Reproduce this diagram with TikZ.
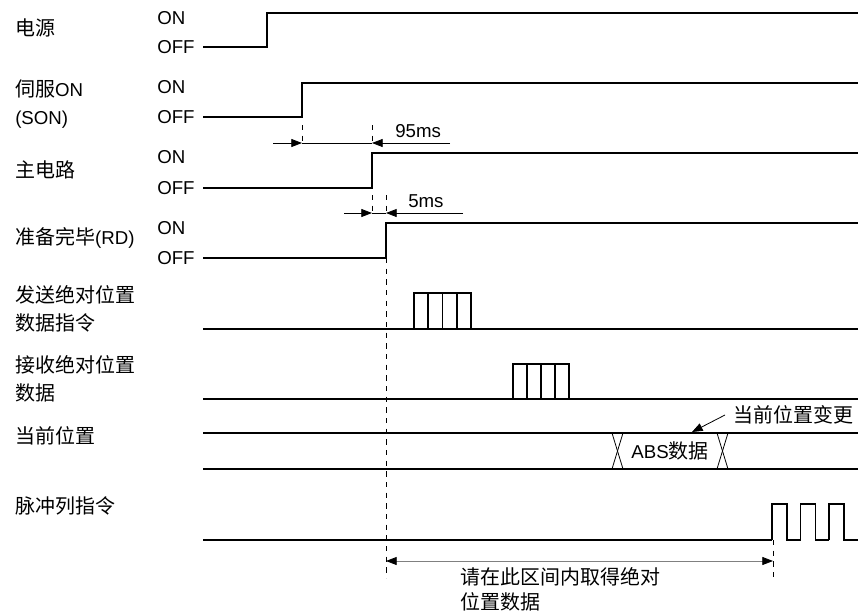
\documentclass[tikz,border=0pt]{standalone}
\usepackage{fontspec}
\setmainfont{Liberation Sans}
\newfontfamily\cjk[Scale=1.07]{Noto Sans CJK SC}
\usetikzlibrary{arrows.meta}

\newcommand*{\xstart}{203}
\newcommand*{\xstop}{858}
\newcommand*{\tlbl}{157}
\newcommand*{\slbl}{15}

\begin{document}
\begin{tikzpicture}
[
	x=0.75pt,y=-0.75pt,
	sig/.style={line width=1pt},
	box/.style={line width=1.3pt},
	base/.style={line width=1.7pt},
	dim/.style={line width=0.6pt},
	tick/.style={line width=0.6pt,dash pattern=on 4pt off 4pt},
	tip/.style={-{Triangle[length=8pt,width=6pt]}},
	lbl/.style={anchor=west,inner sep=0pt,align=left,font=\fontsize{14}{21}\selectfont}
]
	\useasboundingbox (0,0) rectangle (858,611);

	% signal names
	\node[lbl] (power) at (\slbl,28) {\cjk 电源};
	\node[lbl] (son) at (\slbl,104) {{\cjk 伺服}ON\\(SON)};
	\node[lbl] (mains) at (\slbl,170) {\cjk 主电路};
	\node[lbl] (rd) at (\slbl,238) {{\cjk 准备完毕}(RD)};
	\node[lbl] (send) at (\slbl,309) {\cjk 发送绝对位置\\\cjk 数据指令};
	\node[lbl] (recv) at (\slbl,379) {\cjk 接收绝对位置\\\cjk 数据};
	\node[lbl] (curpos) at (\slbl,436) {\cjk 当前位置};
	\node[lbl] (pulse) at (\slbl,506) {\cjk 脉冲列指令};

	% ON / OFF levels
	\foreach \n/\on/\off in {a/18/47,b/87/117,c/157/188,d/228/258} {
		\node[lbl] (on\n) at (\tlbl,\on) {ON};
		\node[lbl] (off\n) at (\tlbl,\off) {OFF};
	}

	% waveforms
	\draw[sig] (\xstart,47) -- (267,47) -- (267,13) -- (\xstop,13);
	\draw[sig] (\xstart,117) -- (302,117) -- (302,83) -- (\xstop,83);
	\draw[sig] (\xstart,188) -- (372,188) -- (372,153) -- (\xstop,153);
	\draw[sig] (\xstart,258) -- (386,258) -- (386,223) -- (\xstop,223);

	% 95ms
	\draw[tick] (302,125) -- (302,141);
	\draw[tick] (372,125) -- (372,141);
	\draw[dim,tip] (273,143) -- (302,143);
	\draw[dim] (302,143) -- (372,143);
	\draw[dim,tip] (450,143) -- (372,143);
	\node[lbl] (t95) at (395,131) {95ms};

	% 5ms
	\draw[tick] (372,195) -- (372,211);
	\draw[tick] (386,195) -- (386,211);
	\draw[dim,tip] (344,213) -- (372,213);
	\draw[dim] (372,213) -- (386,213);
	\draw[dim,tip] (463,213) -- (386,213);
	\node[lbl] (t5) at (408,201) {5ms};

	% send / receive
	\draw[base] (\xstart,329) -- (\xstop,329);
	\foreach \i in {0,...,3} {
		\draw[box] ({414+14.25*\i},329) rectangle +(14.25,-36);
	}
	\draw[base] (\xstart,399) -- (\xstop,399);
	\foreach \i in {0,...,3} {
		\draw[box] ({513+14*\i},399) rectangle +(14,-35);
	}

	% current position
	\draw[base] (\xstart,433) -- (\xstop,433);
	\draw[base] (\xstart,469) -- (\xstop,469);
	\foreach \x in {612,717} {
		\draw[dim] (\x,433) -- (\x+11,469);
		\draw[dim] (\x,469) -- (\x+11,433);
	}
	\node[lbl,anchor=center] (abs) at (670,451) {ABS{\cjk 数据}};
	\node[lbl] (note) at (733,415) {\cjk 当前位置变更};
	\coordinate (chg) at (692,432);
	\draw[dim,tip] ([xshift=-6pt]note.west) -- (chg);

	% pulse train
	\draw[sig] (\xstart,540) -- (772,540);
	\foreach \x in {772,800.5,829} {
		\draw[sig] (\x,540) |- (\x+15,504) -- (\x+15,540) -- (\x+28.5,540);
	}

	% window
	\draw[tick] (386,258) -- (386,578);
	\draw[tick] (773,540) -- (773,578);
	\draw[dim,black!50,{Triangle[length=8pt,width=6pt,color=black]}-{Triangle[length=8pt,width=6pt,color=black]}] (386,561) -- (773,561);
	\node[lbl,anchor=north west,font=\fontsize{14}{19}\selectfont] (hint) at (460,567) {\cjk 请在此区间内取得绝对\\\cjk 位置数据};

\end{tikzpicture}
\end{document}
